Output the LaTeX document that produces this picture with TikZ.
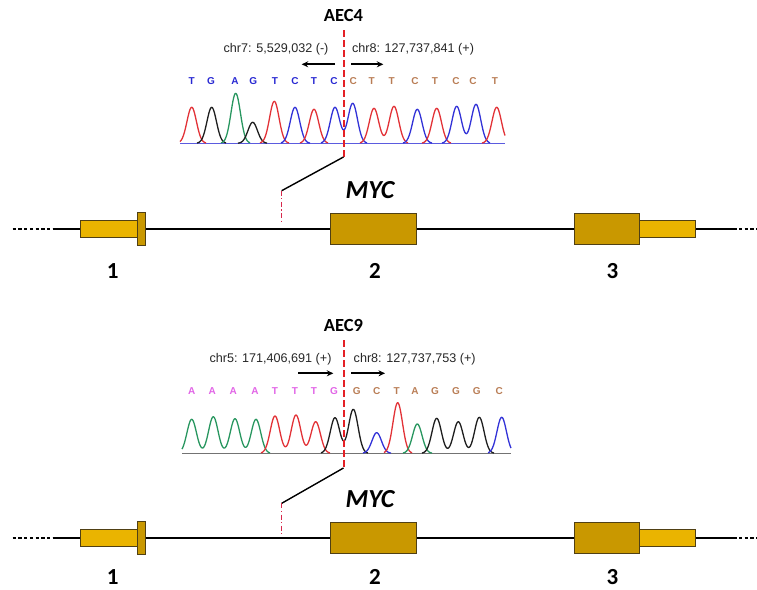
\documentclass[tikz,border=0pt]{standalone}
\usepackage{fontspec}
\setmainfont{Liberation Sans}
\newfontfamily\calfont{Carlito}
\usetikzlibrary{arrows.meta}
\definecolor{exondark}{RGB}{201,152,0}
\definecolor{exonlight}{RGB}{234,180,0}
\definecolor{boxedge}{RGB}{80,64,20}
\definecolor{brkred}{RGB}{228,32,38}
\definecolor{insred}{RGB}{215,40,75}
\definecolor{trred}{RGB}{226,50,55}
\definecolor{trblack}{RGB}{30,30,30}
\definecolor{trgreen}{RGB}{40,150,95}
\definecolor{trblue}{RGB}{50,50,215}
\definecolor{seqblue}{RGB}{40,40,210}
\definecolor{seqbrown}{RGB}{185,125,85}
\definecolor{seqpink}{RGB}{225,100,230}
\newcommand\gpk[2]{#2*exp(-((\x-#1)*(\x-#1)/45))}
\begin{document}
\begin{tikzpicture}[x=1pt,y=-1pt,
  title/.style={font=\calfont\bfseries\fontsize{18.5}{20}\selectfont, anchor=base, inner sep=0},
  chrlbl/.style={font=\fontsize{12.6}{14}\selectfont, anchor=base, inner sep=0, text=black!85},
  ntd/.style={font=\bfseries\fontsize{10}{12}\selectfont, anchor=base, inner sep=0},
  genename/.style={font=\calfont\bfseries\itshape\fontsize{26}{28}\selectfont, anchor=base, inner sep=0},
  exnum/.style={font=\calfont\bfseries\fontsize{23}{25}\selectfont, anchor=base, inner sep=0},
  exonbig/.style={draw=boxedge, line width=1pt, fill=exondark, inner sep=0, minimum height=31.5pt},
  exonsmall/.style={draw=boxedge, line width=1pt, fill=exonlight, inner sep=0, minimum height=17.5pt},
  intron/.style={draw=black, line width=2.4pt},
  dotend/.style={draw=black, line width=2.4pt, dash pattern=on 3.3pt off 2.4pt},
  brk/.style={draw=brkred, line width=2pt, dash pattern=on 7pt off 3pt},
  ins/.style={draw=insred, line width=1.4pt, dash pattern=on 5pt off 2.5pt on 1.2pt off 2.5pt},
  slant/.style={draw=black, line width=1.4pt},
  dirarrow/.style={draw=black, line width=1.8pt, -{Stealth[length=6.5pt,width=6pt]}},
  trace/.style={line width=1.3pt, line join=round}
]
\useasboundingbox (0,0) rectangle (757,589);

% ================= TOP PANEL (AEC4) =================
\node[title] (aec4) at (343.5,21.7) {AEC4};
\node[chrlbl] (chr7) at (276,52.7) {chr7: 5,529,032 (-)};
\node[chrlbl] (chr8a) at (413,52.7) {chr8: 127,737,841 (+)};
\coordinate (a4ls) at (335,64.3); \coordinate (a4le) at (301.7,64.3);
\coordinate (a4rs) at (351,64.3); \coordinate (a4re) at (383.3,64.3);
\draw[dirarrow] (a4ls) -- (a4le);
\draw[dirarrow] (a4rs) -- (a4re);
\foreach \xx/\cc/\nm in {191.7/T/t1,211/G/t2,235/A/t3,253.3/G/t4,275/T/t5,295/C/t6,314/T/t7,334/C/t8}
  \node[ntd, text=seqblue] (\nm) at (\xx,84) {\cc};
\foreach \xx/\cc/\nm in {353.3/C/t9,371.7/T/t10,391.7/T/t11,415/C/t12,435/T/t13,456/C/t14,473/C/t15,495/T/t16}
  \node[ntd, text=seqbrown] (\nm) at (\xx,84) {\cc};
% baseline
\coordinate (bl1s) at (180,143.3); \coordinate (bl1e) at (505,143.3);
\draw[draw=trblue!80, line width=1pt] (bl1s) -- (bl1e);
% traces
\draw[trace, trred] plot[domain=180:206, samples=40] (\x,{143.3-\gpk{191.7}{36}});
\draw[trace, trblack] plot[domain=197:226, samples=40] (\x,{143.3-\gpk{211.7}{36}});
\draw[trace, trgreen] plot[domain=221:250, samples=40] (\x,{143.3-\gpk{235.7}{50}});
\draw[trace, trblack] plot[domain=238:267, samples=40] (\x,{143.3-\gpk{252.7}{21}});
\draw[trace, trred] plot[domain=260:289, samples=40] (\x,{143.3-\gpk{274.3}{42}});
\draw[trace, trblue] plot[domain=281:310, samples=40] (\x,{143.3-\gpk{295}{36}});
\draw[trace, trred] plot[domain=300:328, samples=40] (\x,{143.3-\gpk{314}{34}});
\draw[trace, trblue] plot[domain=321:367, samples=60] (\x,{143.3-\gpk{335}{36}-\gpk{352.7}{40}});
\draw[trace, trred] plot[domain=360:408, samples=60] (\x,{143.3-\gpk{374}{35}-\gpk{394}{37}});
\draw[trace, trblue] plot[domain=403:432, samples=40] (\x,{143.3-\gpk{417.3}{34}});
\draw[trace, trred] plot[domain=422:451, samples=40] (\x,{143.3-\gpk{436.7}{35}});
\draw[trace, trblue] plot[domain=442:490, samples=60] (\x,{143.3-\gpk{456.7}{37}-\gpk{476}{39}});
\draw[trace, trred] plot[domain=482:505, samples=40] (\x,{143.3-\gpk{496.7}{36}});
% breakpoint
\coordinate (brk1t) at (343.5,30); \coordinate (brk1b) at (343.5,157);
\draw[brk] (brk1t) -- (brk1b);
\coordinate (ins1t) at (281.7,190.7); \coordinate (ins1b) at (281.7,224);
\draw[slant] (ins1t) -- (brk1b);
\draw[ins] (ins1t) -- (ins1b);
% gene model
\node[genename] (myc1) at (370,198.3) {MYC};
\coordinate (ld1) at (12.7,229) {}; \coordinate (ls1) at (52.7,229);
\coordinate (rs1) at (733.3,229); \coordinate (rd1) at (757,229);
\node[exonsmall, minimum width=58.3pt] (u5a) at (109.2,229) {};
\node[exonbig, minimum width=86.7pt] (e2a) at (373.4,229) {};
\node[exonbig, minimum width=65.3pt] (e3a) at (606.7,229) {};
\node[exonsmall, minimum width=56.4pt] (u3a) at (667.5,229) {};
\node[draw=boxedge, line width=1pt, fill=exondark, inner sep=0, minimum width=7.3pt, minimum height=32.7pt] (e1a) at (141.4,229) {};
\draw[dotend] (ld1) -- (ls1);
\draw[intron] (ls1) -- (u5a.west);
\draw[intron] (e1a.east) -- (e2a.west);
\draw[intron] (e2a.east) -- (e3a.west);
\draw[intron] (u3a.east) -- (rs1);
\draw[dotend] (rs1) -- (rd1);
\node[exnum] (n1a) at (112.8,278.3) {1};
\node[exnum] (n2a) at (375,278.3) {2};
\node[exnum] (n3a) at (612.5,278.3) {3};

% ================= BOTTOM PANEL (AEC9) =================
\node[title] (aec9) at (343.5,331.7) {AEC9};
\node[chrlbl] (chr5) at (270.5,362.7) {chr5: 171,406,691 (+)};
\node[chrlbl] (chr8b) at (414.7,362.7) {chr8: 127,737,753 (+)};
\coordinate (a9ls) at (298.3,373.3); \coordinate (a9le) at (333.3,373.3);
\coordinate (a9rs) at (351,373.3); \coordinate (a9re) at (385,373.3);
\draw[dirarrow] (a9ls) -- (a9le);
\draw[dirarrow] (a9rs) -- (a9re);
\foreach \xx/\cc/\nm in {191.7/A/b1,212.3/A/b2,233.3/A/b3,255/A/b4,275/T/b5,295/T/b6,314/T/b7,334/G/b8}
  \node[ntd, text=seqpink] (\nm) at (\xx,394.5) {\cc};
\foreach \xx/\cc/\nm in {356.7/G/b9,376.7/C/b10,396.7/T/b11,415/A/b12,435/G/b13,456/G/b14,476.7/G/b15,499.3/C/b16}
  \node[ntd, text=seqbrown] (\nm) at (\xx,394.5) {\cc};
\coordinate (bl2s) at (182,453.3); \coordinate (bl2e) at (511,453.3);
\draw[draw=black!55, line width=1pt] (bl2s) -- (bl2e);
\draw[trace, trgreen] plot[domain=182:270, samples=110] (\x,{453.3-\gpk{191.7}{34}-\gpk{213.3}{36.6}-\gpk{235}{34.6}-\gpk{256}{34}});
\draw[trace, trred] plot[domain=261:330, samples=90] (\x,{453.3-\gpk{275}{37.3}-\gpk{296}{38.3}-\gpk{315.7}{31.6}});
\draw[trace, trblack] plot[domain=321:368, samples=60] (\x,{453.3-\gpk{335}{35.6}-\gpk{353.3}{44}});
\draw[trace, trblue] plot[domain=363:391, samples=40] (\x,{453.3-\gpk{376.7}{20.6}});
\draw[trace, trred] plot[domain=384:412, samples=40] (\x,{453.3-\gpk{397.7}{50.6}});
\draw[trace, trgreen] plot[domain=403:432, samples=40] (\x,{453.3-\gpk{417.3}{29.3}});
\draw[trace, trblack] plot[domain=422:494, samples=90] (\x,{453.3-\gpk{436.7}{35}-\gpk{458.3}{31.6}-\gpk{479.3}{36}});
\draw[trace, trblue] plot[domain=488:511, samples=40] (\x,{453.3-\gpk{501.7}{36}});
\coordinate (brk2t) at (343.5,340); \coordinate (brk2b) at (343.5,468);
\draw[brk] (brk2t) -- (brk2b);
\coordinate (ins2t) at (281.7,503.3); \coordinate (ins2b) at (281.7,536);
\draw[slant] (ins2t) -- (brk2b);
\draw[ins] (ins2t) -- (ins2b);
\begin{scope}[shift={(0,309)}]
\node[genename] (myc2) at (370,198.3) {MYC};
\coordinate (ld2) at (12.7,229); \coordinate (ls2) at (52.7,229);
\coordinate (rs2) at (733.3,229); \coordinate (rd2) at (757,229);
\node[exonsmall, minimum width=58.3pt] (u5b) at (109.2,229) {};
\node[exonbig, minimum width=86.7pt] (e2b) at (373.4,229) {};
\node[exonbig, minimum width=65.3pt] (e3b) at (606.7,229) {};
\node[exonsmall, minimum width=56.4pt] (u3b) at (667.5,229) {};
\node[draw=boxedge, line width=1pt, fill=exondark, inner sep=0, minimum width=7.3pt, minimum height=32.7pt] (e1b) at (141.4,229) {};
\draw[dotend] (ld2) -- (ls2);
\draw[intron] (ls2) -- (u5b.west);
\draw[intron] (e1b.east) -- (e2b.west);
\draw[intron] (e2b.east) -- (e3b.west);
\draw[intron] (u3b.east) -- (rs2);
\draw[dotend] (rs2) -- (rd2);
\node[exnum] (n1b) at (112.8,275.5) {1};
\node[exnum] (n2b) at (375,275.5) {2};
\node[exnum] (n3b) at (612.5,275.5) {3};
\end{scope}
\end{tikzpicture}
\end{document}
